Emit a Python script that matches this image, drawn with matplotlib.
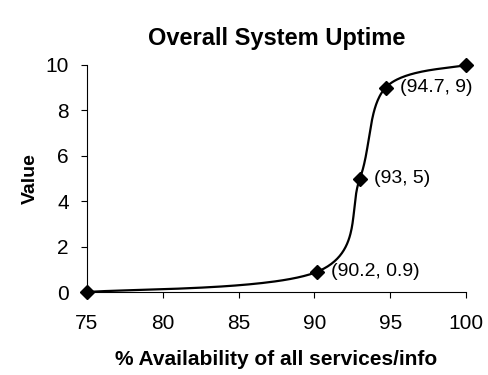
import matplotlib
matplotlib.use("Agg")
import matplotlib.pyplot as plt
import numpy as np

# ── Data ──────────────────────────────────────────────────────────────────────
availability = [75, 90.2, 93, 94.7, 100]
value = [0, 0.9, 5, 9, 10]
labelled = [1, 2, 3]          # points that carry a "(x, y)" label

x_ticks = [75, 80, 85, 90, 95, 100]
y_ticks = [0, 2, 4, 6, 8, 10]

plt.rcParams["font.family"] = ["Liberation Sans", "DejaVu Sans"]

fig = plt.figure(figsize=(4.88, 3.75), dpi=100)
ax = fig.add_axes([0.178, 0.221, 0.777, 0.606])
ax.set_xlim(75, 100)
ax.set_ylim(0, 10)


# ── Excel-style smoothed line (Bezier through the points) ─────────────────────
def smooth(xs, ys, n=60):
    # work in normalised axis space so the tension behaves like on screen
    px = (np.asarray(xs, float) - 75) / 25 * 0.777 * 4.88
    py = np.asarray(ys, float) / 10 * 0.606 * 3.75
    pts = np.column_stack([px, py])
    out = [pts[0]]
    for i in range(len(pts) - 1):
        p0 = pts[i - 1] if i > 0 else pts[i]
        p1, p2 = pts[i], pts[i + 1]
        p3 = pts[i + 2] if i + 2 < len(pts) else pts[i + 1]
        c1 = p1 + (p2 - p0) / 6
        c2 = p2 - (p3 - p1) / 6
        t = np.linspace(0, 1, n)[1:, None]
        seg = ((1 - t) ** 3 * p1 + 3 * (1 - t) ** 2 * t * c1
               + 3 * (1 - t) * t ** 2 * c2 + t ** 3 * p2)
        out.extend(seg)
    out = np.array(out)
    sx = out[:, 0] / (0.777 * 4.88) * 25 + 75
    sy = out[:, 1] / (0.606 * 3.75) * 10
    return sx, sy


sx, sy = smooth(availability, value)
ax.plot(sx, sy, color="black", lw=1.6, clip_on=False, zorder=2)
ax.plot(availability, value, ls="none", marker="D", ms=7, color="black",
        clip_on=False, zorder=3)

for i in labelled:
    xv, yv = availability[i], value[i]
    ax.annotate(f"({xv:g}, {yv:g})", (xv, yv), xytext=(10, 0),
                textcoords="offset points", ha="left", va="center",
                fontsize=14)

# ── Axes styling ──────────────────────────────────────────────────────────────
for side in ["top", "right"]:
    ax.spines[side].set_visible(False)
ax.spines["left"].set_linewidth(0.8)
ax.spines["bottom"].set_linewidth(0.8)
ax.set_xticks(x_ticks)
ax.set_yticks(y_ticks)
ax.tick_params(direction="out", length=4, width=0.8, labelsize=15)
ax.tick_params(axis="x", pad=12)
ax.tick_params(axis="y", pad=9)

ax.set_title("Overall System Uptime", fontsize=17, fontweight="bold", pad=14)
ax.set_xlabel("% Availability of all services/info", fontsize=15,
              fontweight="bold", labelpad=12)
ax.set_ylabel("Value", fontsize=14, fontweight="bold", labelpad=5)

fig.savefig("out.png", dpi=100)
